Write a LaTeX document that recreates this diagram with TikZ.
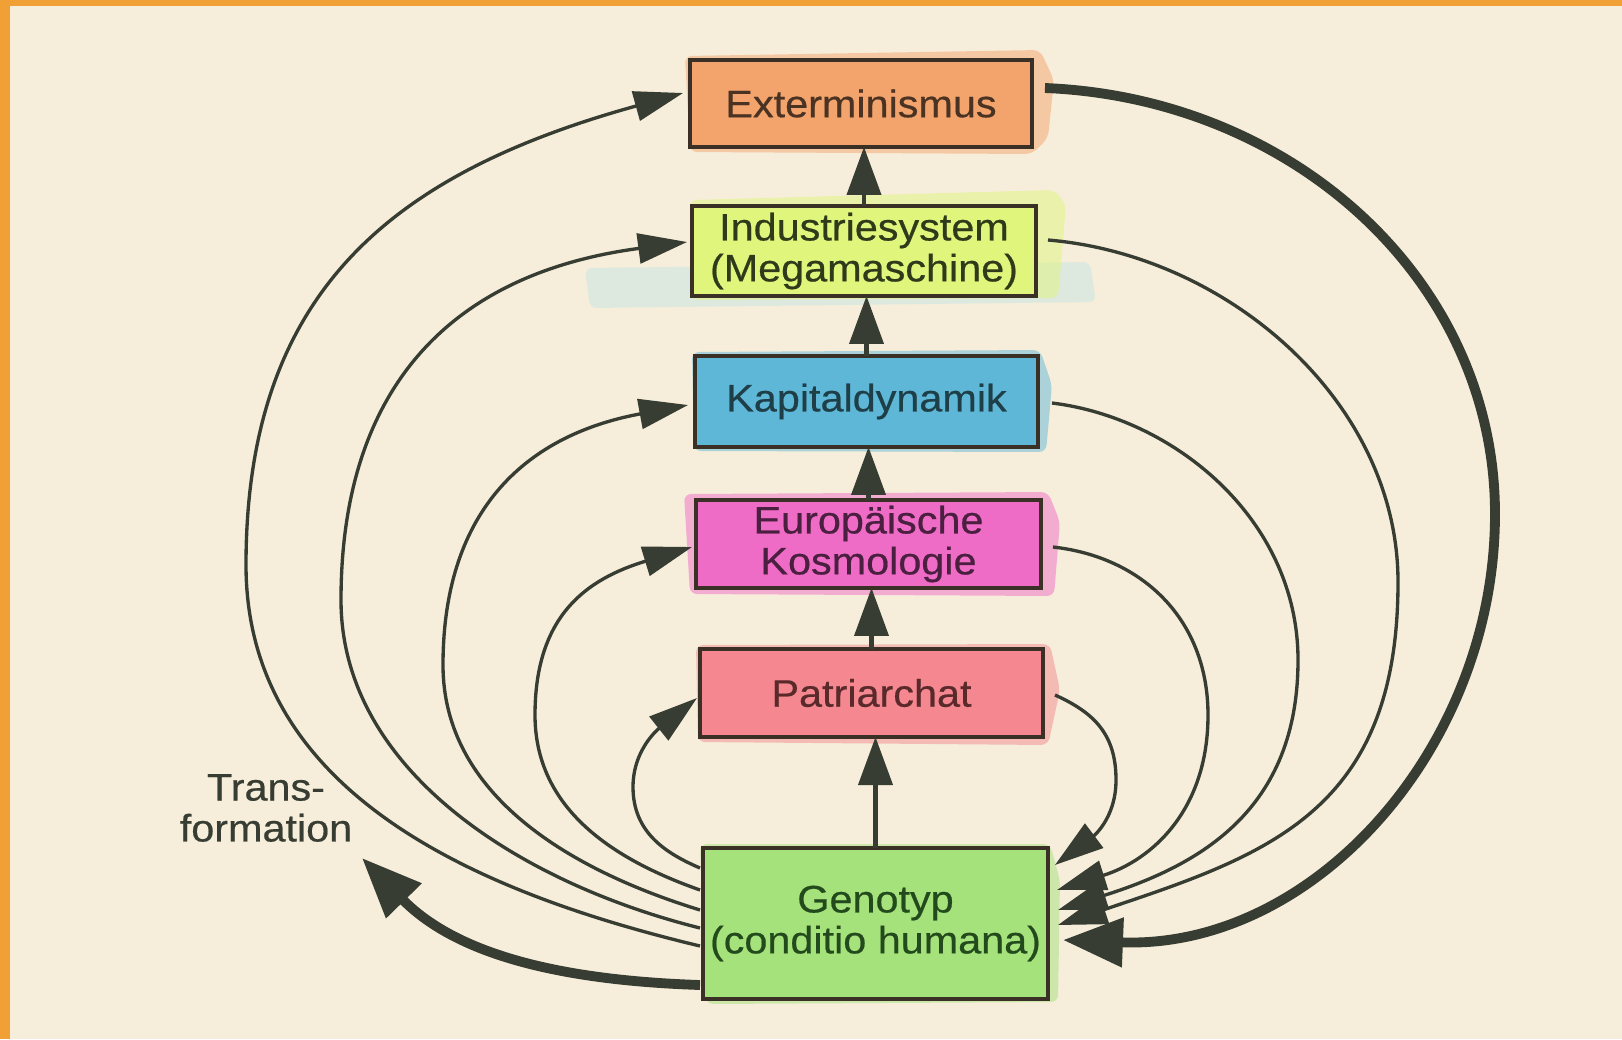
\documentclass[tikz,border=0pt]{standalone}
\usepackage{fontspec}
\setmainfont{Liberation Sans}[FakeStretch=1.08,FakeBold=0.5]
\usetikzlibrary{arrows.meta,calc}
\definecolor{bg}{HTML}{F6EEDA}
\definecolor{frame}{HTML}{F0A035}
\definecolor{ink}{HTML}{373D32}
\definecolor{boxline}{HTML}{3A3025}
\definecolor{cE}{HTML}{F3A36C}
\definecolor{cI}{HTML}{E0F57C}
\definecolor{cK}{HTML}{5FB7D7}
\definecolor{cEu}{HTML}{EE6CC6}
\definecolor{cP}{HTML}{F4878F}
\definecolor{cG}{HTML}{A6E27B}
\definecolor{cyansmear}{HTML}{D3E8E2}
\definecolor{tE}{HTML}{4A3322}
\definecolor{tI}{HTML}{2E3A1A}
\definecolor{tK}{HTML}{1F3F48}
\definecolor{tEu}{HTML}{4A1F40}
\definecolor{tP}{HTML}{5A2A2A}
\definecolor{tG}{HTML}{234A1C}
\newcommand\boxfont{\fontsize{21.8}{23.3}\selectfont}
\tikzset{
  box/.style={draw=boxline, line width=2pt, inner sep=0pt, outer sep=0pt, align=center, font=\boxfont},
  thinarc/.style={draw=ink, line width=1.9pt, -{Triangle[length=0.98cm,width=0.6cm]}},
  thickarc/.style={draw=ink, line width=5.6pt, -{Triangle[length=1.2cm,width=0.95cm]}},
  vert/.style={draw=ink, line width=2.3pt, -{Triangle[length=0.96cm,width=0.68cm]}},
  smear/.style={opacity=0.5, rounded corners=4pt}
}
\begin{document}
\begin{tikzpicture}[x=0.02cm,y=-0.02cm]
\useasboundingbox (0,0) rectangle (1622,1039);
\fill[bg] (0,0) rectangle (1622,1039);
\fill[frame] (0,0) rectangle (10,1039);
\fill[frame] (0,0) rectangle (1622,6);

% highlighter smears
\fill[cE, smear] (685,56) -- (1040,50) -- (1054,80) -- (1048,138) -- (1032,154) -- (690,152) -- cycle;
\fill[cyansmear, smear, opacity=0.7] (585,268) -- (1090,262) -- (1096,302) -- (590,308) -- cycle;
\fill[cI, smear] (690,200) -- (1055,190) -- (1066,205) -- (1058,298) -- (692,300) -- cycle;
\fill[cK, smear] (692,352) -- (1040,350) -- (1052,385) -- (1046,452) -- (694,451) -- cycle;
\fill[cEu, smear] (684,494) -- (1048,492) -- (1060,522) -- (1054,596) -- (690,594) -- cycle;
\fill[cP, smear] (696,645) -- (1050,644) -- (1060,690) -- (1048,745) -- (698,742) -- cycle;
\fill[cG, smear] (700,844) -- (1050,844) -- (1060,880) -- (1058,1002) -- (706,1004) -- cycle;

% boxes
\node[box, fill=cE, text=tE, minimum width=6.84cm, minimum height=1.74cm] (E) at (861,103.5) {Exterminismus};
\node[box, fill=cI, text=tI, minimum width=6.88cm, minimum height=1.80cm] (I) at (864,251) {Industriesystem\\(Megamaschine)};
\node[box, fill=cK, text=tK, minimum width=6.86cm, minimum height=1.82cm] (K) at (866.5,401.5) {Kapitaldynamik};
\node[box, fill=cEu, text=tEu, minimum width=6.90cm, minimum height=1.76cm] (Eu) at (868.5,544) {Europäische\\Kosmologie};
\node[box, fill=cP, text=tP, minimum width=6.86cm, minimum height=1.76cm] (P) at (871.5,693) {Patriarchat};
\node[box, fill=cG, text=tG, minimum width=6.90cm, minimum height=3.02cm] (G) at (875.5,923.5) {Genotyp\\(conditio humana)};

\node[align=center, font=\boxfont, text=ink, inner sep=0pt] (T) at (266,808) {Trans-\\formation};
\coordinate (trtip) at (362,858);

% vertical arrows
\draw[vert] (G.north) -- (G.north |- P.south);
\draw[vert] (P.north) -- (P.north |- Eu.south);
\draw[vert] (Eu.north) -- (Eu.north |- K.south);
\draw[vert] (K.north) -- (K.north |- I.south);
\draw[vert] (I.north) -- (I.north |- E.south);

% left arcs
\draw[thinarc] ($(G.west)+(-3,22.5)$) .. controls (470,891) and (246,790) .. (246,565) .. controls (246,290) and (394,173) .. ($(E.west)+(-7,-10.5)$);
\draw[thinarc] ($(G.west)+(-3,4.5)$) .. controls (520,883) and (341,770) .. (341,600) .. controls (341,400) and (439,275) .. ($(I.west)+(-5,-9)$);
\draw[thinarc] ($(G.west)+(-3,-13.5)$) .. controls (570,870) and (443,795) .. (443,665) .. controls (443,515) and (521,436) .. ($(K.west)+(-7,3.5)$);
\draw[thinarc] ($(G.west)+(-3,-33.5)$) .. controls (615,860) and (535,810) .. (535,715) .. controls (535,615) and (587,579) .. ($(Eu.west)+(-4,3)$);
\draw[thinarc] ($(G.west)+(-3,-55.5)$) .. controls (665,853) and (633,832) .. (633,787) .. controls (633,747) and (662,726) .. ($(P.west)+(-3,5)$);
\draw[thickarc] ($(G.west)+(-3,61.5)$) .. controls (550,980) and (453,951) .. (trtip);

% right arcs
\draw[thickarc] ($(E.east)+(13,-15.5)$) .. controls (1293,98) and (1495,280) .. (1495,514) .. controls (1495,748) and (1313,950) .. ($(G.east)+(15,16.5)$);
\draw[thinarc] ($(I.east)+(12,-11)$) .. controls (1228,255) and (1398,402) .. (1398,582) .. controls (1398,812) and (1267,855) .. ($(G.east)+(10,1.5)$);
\draw[thinarc] ($(K.east)+(14,1.5)$) .. controls (1175,418) and (1298,520) .. (1298,660) .. controls (1298,810) and (1200,865) .. ($(G.east)+(10,-13.5)$);
\draw[thinarc] ($(Eu.east)+(12,3)$) .. controls (1143,557) and (1208,620) .. (1208,715) .. controls (1208,810) and (1152,860) .. ($(G.east)+(9,-33.5)$);
\draw[thinarc] ($(P.east)+(12,2)$) .. controls (1095,713) and (1116,735) .. (1116,780) .. controls (1116,820) and (1091,838) .. ($(G.east)+(7,-58.5)$);
\end{tikzpicture}
\end{document}
